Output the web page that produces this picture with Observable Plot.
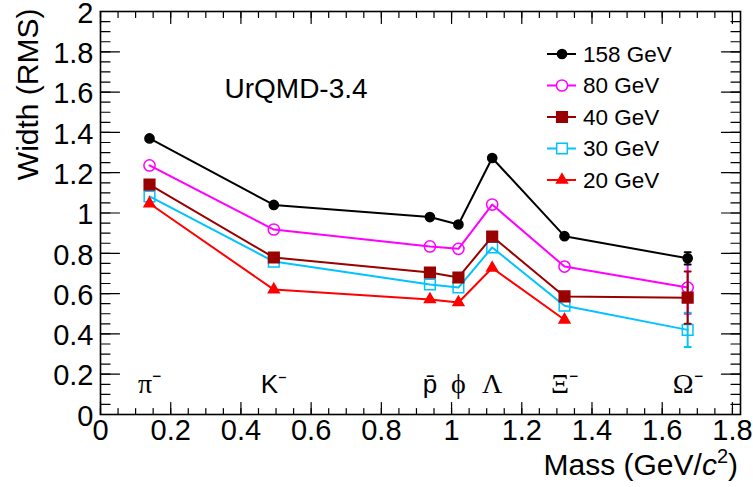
<!DOCTYPE html>
<html><head><meta charset="utf-8">
<script src="https://cdn.jsdelivr.net/npm/d3@7"></script>
<script src="https://cdn.jsdelivr.net/npm/@observablehq/plot@0.6"></script>
<style>body{margin:0;background:#fff} #chart{width:753px;height:487px}</style>
</head><body><div id="chart"></div>
<script>
// ---- data ----
const particles = ["π⁻", "K⁻", "p̄", "ϕ", "Λ", "Ξ⁻", "Ω⁻"];
const masses = [0.1396, 0.4937, 0.9383, 1.0195, 1.1157, 1.3217, 1.6725];
const serifLabel = [true, false, false, true, true, true, true];
const energies = ["158 GeV", "80 GeV", "40 GeV", "30 GeV", "20 GeV"];
const w158 = [1.370, 1.040, 0.980, 0.943, 1.273, 0.885, 0.775];
const w80  = [1.236, 0.918, 0.834, 0.822, 1.042, 0.734, 0.630];
const w40  = [1.141, 0.779, 0.705, 0.680, 0.883, 0.586, 0.580];
const w30  = [1.082, 0.759, 0.645, 0.630, 0.829, 0.540, 0.420];
const w20  = [1.047, 0.620, 0.571, 0.556, 0.727, 0.470, null];
const e158 = [0, 0, 0, 0, 0, 0, 0.03];
const e80  = [0, 0, 0, 0, 0, 0, 0.13];
const e40  = [0, 0, 0, 0, 0, 0, 0.13];
const e30  = [0, 0, 0, 0, 0, 0, 0.085];
const e20  = [0, 0, 0, 0, 0, 0, 0];
const xTicks = [0, 0.2, 0.4, 0.6, 0.8, 1, 1.2, 1.4, 1.6, 1.8];
const yTicks = [0, 0.2, 0.4, 0.6, 0.8, 1, 1.2, 1.4, 1.6, 1.8, 2];
const modelLabel = "UrQMD-3.4";
const yTitle = "Width (RMS)";

// ---- styles ----
const styles = [
  {color: "#000000", symbol: "circle", fill: "#000000", r: 4.6},
  {color: "#ff00ff", symbol: "circle", fill: "none", r: 5.6},
  {color: "#990000", symbol: "square", fill: "#990000", r: 6.0},
  {color: "#00c3ff", symbol: "square", fill: "none", r: 6.0},
  {color: "#ff0000", symbol: "triangle", fill: "#ff0000", r: 4.0}
];
const values = [w158, w80, w40, w30, w20];
const errors = [e158, e80, e40, e30, e20];
const XMAX = 1.823, YMAX = 2;
const sans = "'Liberation Sans', Arial, Helvetica, sans-serif";
const serif = "'Liberation Serif', 'Times New Roman', serif";

const series = energies.map((e, k) => masses.map((m, i) => ({
  energy: e, k, mass: m, w: values[k][i], err: errors[k][i]
})).filter(d => d.w != null));

const xMinor = d3.range(0, 1.8001, 0.05).map(v => +v.toFixed(2));
const yMinor = d3.range(0, 2.0001, 0.05).map(v => +v.toFixed(2));
const tickShape = {draw(ctx, l) { ctx.moveTo(0, 0); ctx.lineTo(0, -l); }};
const capShape = {draw(ctx, l) { ctx.moveTo(-l, 0); ctx.lineTo(l, 0); }};
const tk = (data, opts) => Plot.vector(data, {shape: tickShape, anchor: "start", stroke: "black", strokeWidth: 1.2, ...opts});

const drawOrder = [1, 3, 2, 4, 0];
const dataMarks = [];
for (const k of drawOrder) {
  const s = styles[k], d = series[k];
  const de = d.filter(p => p.err > 0);
  dataMarks.push(Plot.line(d, {x: "mass", y: "w", stroke: s.color, strokeWidth: 2}));
  dataMarks.push(Plot.ruleX(de, {x: "mass", y1: p => p.w - p.err, y2: p => p.w + p.err, stroke: s.color, strokeWidth: 2}));
  dataMarks.push(Plot.vector(de, {x: "mass", y: p => p.w - p.err, length: 3, shape: capShape, anchor: "start", stroke: s.color, strokeWidth: 2}));
  dataMarks.push(Plot.vector(de, {x: "mass", y: p => p.w + p.err, length: 3, shape: capShape, anchor: "start", stroke: s.color, strokeWidth: 2}));
  dataMarks.push(Plot.dot(d, {x: "mass", y: "w", symbol: s.symbol, r: s.r, fill: s.fill, stroke: s.color, strokeWidth: 1.5}));
}

const pl = particles.map((p, i) => ({p, m: masses[i], serif: serifLabel[i]}));

const chart = Plot.plot({
  width: 753, height: 487,
  marginLeft: 100, marginRight: 13, marginTop: 11, marginBottom: 73,
  style: {fontFamily: sans, background: "white"},
  x: {domain: [0, XMAX]},
  y: {domain: [0, YMAX]},
  marks: [
    tk(xTicks, {x: d => d, y: 0, length: 12}),
    tk(xMinor, {x: d => d, y: 0, length: 6}),
    tk(xTicks, {x: d => d, y: YMAX, length: 12, rotate: 180}),
    tk(xMinor, {x: d => d, y: YMAX, length: 6, rotate: 180}),
    tk(yTicks, {y: d => d, x: 0, length: 19, rotate: 90}),
    tk(yMinor, {y: d => d, x: 0, length: 9.5, rotate: 90}),
    tk(yTicks, {y: d => d, x: XMAX, length: 19, rotate: -90}),
    tk(yMinor, {y: d => d, x: XMAX, length: 9.5, rotate: -90}),
    Plot.axisX(xTicks, {tickSize: 0, tickPadding: 5, fontSize: 29, fontFamily: sans, tickFormat: d => String(d), label: null}),
    Plot.axisY(yTicks, {tickSize: 0, tickPadding: 7, fontSize: 29, fontFamily: sans, tickFormat: d => String(d), label: null, dy: 2}),
    Plot.frame({stroke: "black", strokeWidth: 1.6}),
    ...dataMarks,
    Plot.text(pl.filter(d => d.serif), {x: "m", y: 0.15, text: "p", fontSize: 28, fontFamily: serif, fill: "black"}),
    Plot.text(pl.filter(d => !d.serif), {x: "m", y: 0.15, text: "p", fontSize: 26, fontFamily: sans, fill: "black"}),
    Plot.text([modelLabel], {frameAnchor: "top-left", dx: 124, dy: 67, textAnchor: "start", fontSize: 28, fontFamily: sans, fill: "black"}),
    Plot.text([yTitle], {frameAnchor: "top-left", rotate: -90, textAnchor: "end", lineAnchor: "middle", dx: -72, dy: -3, fontSize: 30, fontFamily: sans, fill: "black"})
  ]
});
document.getElementById("chart").appendChild(chart);

const svg = d3.select(chart);
// x-axis title with italic c and superscript 2
const t = svg.append("text").attr("x", 738).attr("y", 475).attr("text-anchor", "end")
  .attr("font-family", sans).attr("font-size", 30).attr("fill", "black");
t.append("tspan").text("Mass (GeV/");
t.append("tspan").attr("font-style", "italic").text("c");
t.append("tspan").attr("font-size", 20).attr("dy", -12).text("2");
t.append("tspan").attr("dy", 12).text(")");

// legend
const lg = svg.append("g").attr("font-family", sans).attr("font-size", 22.5).attr("text-anchor", "start");
energies.forEach((e, k) => {
  const s = styles[k], y = 54 + k * 31.5;
  const g = lg.append("g").attr("transform", `translate(0,${y})`);
  g.append("line").attr("x1", 547).attr("x2", 576).attr("y1", 0).attr("y2", 0).attr("stroke", s.color).attr("stroke-width", 2);
  const sym = {circle: d3.symbolCircle, square: d3.symbolSquare, triangle: d3.symbolTriangle}[s.symbol];
  g.append("path").attr("d", d3.symbol(sym, Math.PI * s.r * s.r)()).attr("transform", "translate(562,0)")
    .attr("fill", s.fill === "none" ? "white" : s.fill).attr("stroke", s.color).attr("stroke-width", 1.5);
  g.append("text").attr("x", 583).attr("y", 0).attr("dy", "0.35em").attr("fill", "black").text(e);
});
</script></body></html>
